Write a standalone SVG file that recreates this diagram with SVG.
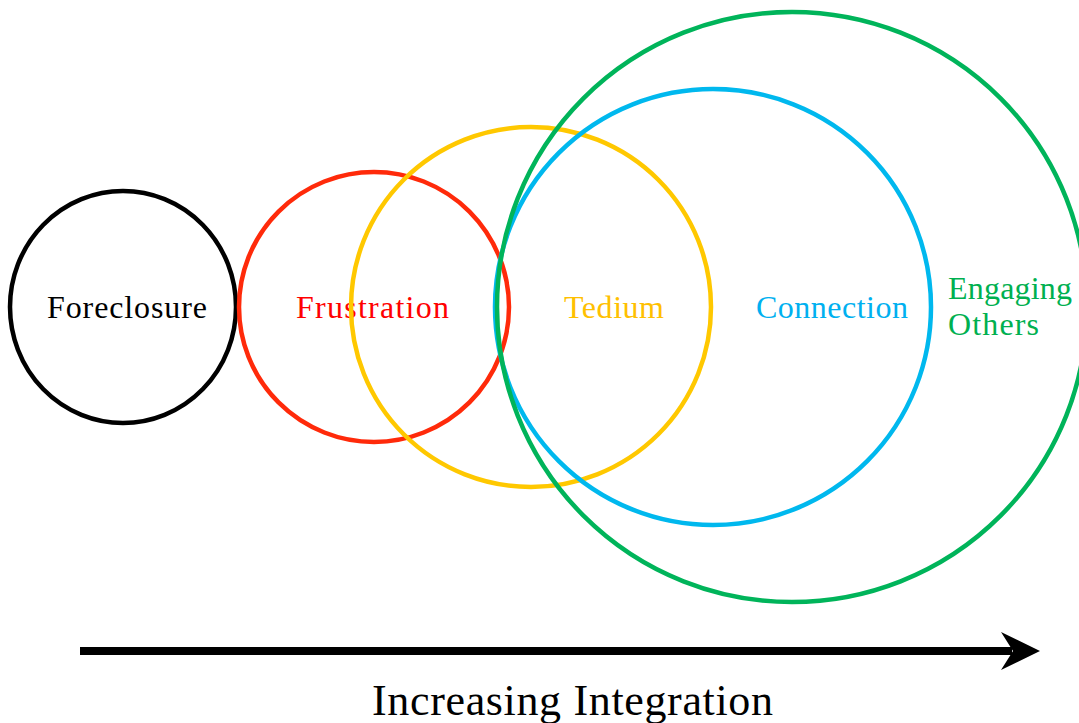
<svg xmlns="http://www.w3.org/2000/svg" width="1079" height="723" viewBox="0 0 1079 723">
<style>
.c{fill:none;stroke-width:4.5}
.t{font-family:"Liberation Serif","Times New Roman",serif;font-size:32px}
</style>
<rect width="1079" height="723" fill="#fff"/>
<g id="foreclosure">
<ellipse class="c" cx="123" cy="307" rx="113" ry="116" stroke="#000"/>
<text class="t" x="127" y="318" text-anchor="middle" fill="#000" textLength="160">Foreclosure</text>
</g>
<g id="frustration">
<circle class="c" cx="374" cy="307" r="135" stroke="#FF2A0A"/>
<text class="t" x="372.5" y="318" text-anchor="middle" fill="#FF0000" textLength="153">Frustration</text>
</g>
<g id="tedium">
<circle class="c" cx="531" cy="307" r="180" stroke="#FFC800"/>
<text class="t" x="614" y="318" text-anchor="middle" fill="#FFC000" textLength="100">Tedium</text>
</g>
<g id="connection">
<circle class="c" cx="713" cy="307" r="218" stroke="#00B8EE"/>
<text class="t" x="832" y="318" text-anchor="middle" fill="#00B0F0" textLength="152">Connection</text>
</g>
<g id="engaging-others">
<circle class="c" cx="792" cy="307" r="295" stroke="#00B45A"/>
<text class="t" x="948" y="299" fill="#00B050" textLength="124">Engaging</text>
<text class="t" x="948" y="335" fill="#00B050" textLength="91">Others</text>
</g>
<g id="connectors">
<line x1="80" y1="651" x2="1012" y2="651" stroke="#000" stroke-width="8"/>
<polygon points="1040,651 1001,632 1013,651 1001,670" fill="#000"/>
</g>
<text class="t" x="572.5" y="715" text-anchor="middle" fill="#000" style="font-size:44px" textLength="401">Increasing Integration</text>
</svg>
